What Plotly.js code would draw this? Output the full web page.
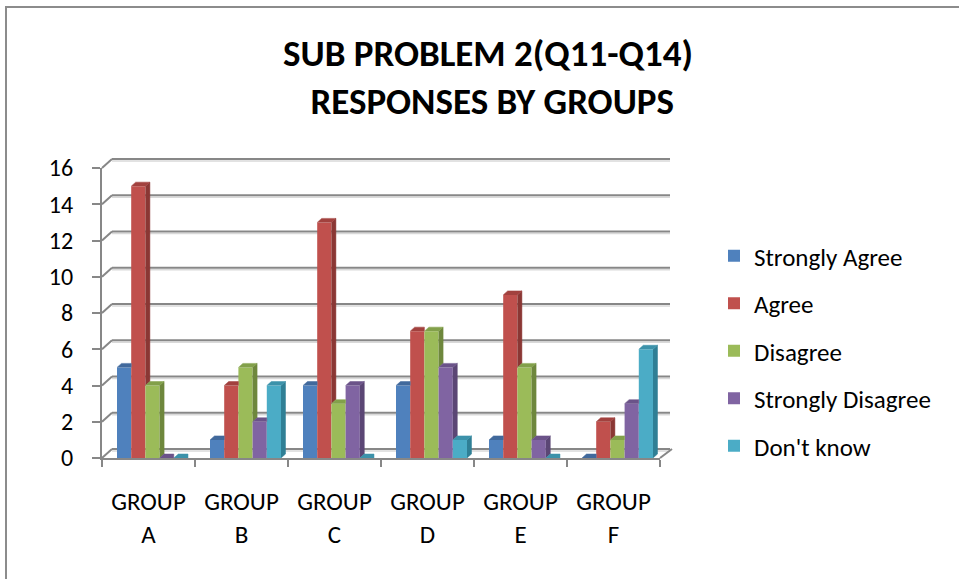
<!DOCTYPE html>
<html>
<head>
<meta charset="utf-8">
<script src="https://cdn.plot.ly/plotly-3.0.1.min.js"></script>
<style>
  html, body { margin: 0; padding: 0; background: #fff; }
  #wrap { position: relative; width: 959px; height: 579px; overflow: hidden; }
  #chart { width: 959px; height: 579px; }
  #frame { position: absolute; left: 5px; top: 6px; width: 1000px; height: 1000px;
           border-left: 2px solid #8c8c8c; border-top: 2px solid #8c8c8c; pointer-events: none; }
</style>
</head>
<body>
<div id="wrap"><div id="chart"></div><div id="frame"></div></div>
<script>
// Category labels and response counts per group
const groupLabels = ['GROUP<br>A', 'GROUP<br>B', 'GROUP<br>C', 'GROUP<br>D', 'GROUP<br>E', 'GROUP<br>F'];
const seriesNames = ['Strongly Agree', 'Agree', 'Disagree', 'Strongly Disagree', "Don't know"];
const stronglyAgree    = [5, 1, 4, 4, 1, 0];
const agree            = [15, 4, 13, 7, 9, 2];
const disagree         = [4, 5, 3, 7, 5, 1];
const stronglyDisagree = [0, 2, 4, 5, 1, 3];
const dontKnow         = [0, 4, 0, 1, 0, 6];
const yTicks = [0, 2, 4, 6, 8, 10, 12, 14, 16];

const seriesValues = [stronglyAgree, agree, disagree, stronglyDisagree, dontKnow];

// Face colours: front, right side, top
const frontColors = ['#4F81BD', '#C0504D', '#9BBB59', '#8064A2', '#4BACC6'];
const sideColors  = ['#375A87', '#8A3734', '#6E873D', '#5B4675', '#2F7F95'];
const topColors   = ['#41699C', '#A2413E', '#82A04A', '#6B5389', '#3C92AA'];

const FONT = 'Carlito, Lato, "Open Sans", sans-serif';
const M = { l: 102, r: 299, t: 168, b: 121 };
const plotW = 959 - M.l - M.r;
const plotH = 579 - M.t - M.b;
const xRange = [-0.5, 5.5];
const yRange = [0, 16];
const dataPerPxX = (xRange[1] - xRange[0]) / plotW;
const dataPerPxY = (yRange[1] - yRange[0]) / plotH;

// Bar geometry (in axis units, derived from pixel sizes)
const barW = 14.2 * dataPerPxX;
const firstOffset = -0.5 + 15 * dataPerPxX;
const depthX = 4.5 * dataPerPxX;
const depthY = 4 * dataPerPxY;

const idx = groupLabels.map((_, i) => i);
const traces = [];

// Front faces (bars, with legend entries)
seriesValues.forEach((vals, s) => {
  traces.push({
    type: 'bar',
    name: seriesNames[s],
    legendgroup: 'g' + s,
    x: idx,
    y: vals,
    width: barW,
    offset: firstOffset + s * barW,
    marker: { color: frontColors[s], line: { width: 0 } },
    hoverinfo: 'name+y'
  });
});

// Side and top faces for the 3-D look; the side of each bar is only
// visible above the neighbouring bar drawn in front of it.
seriesValues.forEach((vals, s) => {
  const next = s < seriesValues.length - 1 ? seriesValues[s + 1] : vals.map(() => 0);
  const sx = [], sy = [], tx = [], ty = [];
  vals.forEach((v, g) => {
    const h = next[g];
    const a = g + firstOffset + (s + 1) * barW;
    const L = a - barW;
    if (v > h) {
      sx.push(a, a + depthX, a + depthX, a, null);
      sy.push(h, h + depthY, v + depthY, v, null);
      tx.push(L, L + depthX, a + depthX, a, null);
      ty.push(v, v + depthY, v + depthY, v, null);
    } else {
      tx.push(L, L + depthX, a, a, null);
      ty.push(v, v + depthY, v + depthY, v, null);
    }
  });
  traces.push({
    type: 'scatter', x: sx, y: sy, mode: 'lines', fill: 'toself',
    fillcolor: sideColors[s], line: { color: sideColors[s], width: 0.5 },
    hoverinfo: 'skip', showlegend: false
  });
  traces.push({
    type: 'scatter', x: tx, y: ty, mode: 'lines', fill: 'toself',
    fillcolor: topColors[s], line: { color: topColors[s], width: 0.5 },
    hoverinfo: 'skip', showlegend: false
  });
});

// Back wall gridlines and floor, offset in depth behind the front axes
const wallDX = 10, wallDY = 9;
const px2paperX = px => (px - M.l) / plotW;
const val2paperY = (v, offPx) => (v - yRange[0]) / (yRange[1] - yRange[0]) + offPx / plotH;
const gridColor = '#878787';
const shapes = [];
yTicks.forEach(v => {
  shapes.push({
    type: 'line', xref: 'paper', yref: 'paper', layer: 'below',
    x0: px2paperX(M.l + wallDX), x1: px2paperX(M.l + plotW + wallDX),
    y0: val2paperY(v, wallDY - 2), y1: val2paperY(v, wallDY - 2),
    line: { color: '#d9d9d9', width: 1.5 }
  });
  shapes.push({
    type: 'line', xref: 'paper', yref: 'paper', layer: 'below',
    x0: px2paperX(M.l + wallDX), x1: px2paperX(M.l + plotW + wallDX),
    y0: val2paperY(v, wallDY), y1: val2paperY(v, wallDY),
    line: { color: gridColor, width: 2 }
  });
  shapes.push({
    type: 'line', xref: 'paper', yref: 'paper', layer: 'below',
    x0: 0, x1: px2paperX(M.l + wallDX),
    y0: val2paperY(v, 0), y1: val2paperY(v, wallDY),
    line: { color: gridColor, width: 2 }
  });
});
// right edge of the floor
shapes.push({
  type: 'line', xref: 'paper', yref: 'paper', layer: 'below',
  x0: 1, x1: px2paperX(M.l + plotW + wallDX + 2),
  y0: val2paperY(0, 0), y1: val2paperY(0, wallDY),
  line: { color: gridColor, width: 2 }
});

const layout = {
  width: 959,
  height: 579,
  margin: M,
  paper_bgcolor: '#ffffff',
  plot_bgcolor: 'rgba(0,0,0,0)',
  barmode: 'overlay',
  showlegend: true,
  font: { family: FONT, color: '#000000', size: 24 },
  title: {
    text: 'SUB PROBLEM 2(Q11-Q14)<br> RESPONSES BY GROUPS',
    font: { family: FONT, size: 37, color: '#000000', weight: 'bold' },
    x: 488 / 959, xanchor: 'center',
    y: 1 - 66 / 579, yanchor: 'top'
  },
  xaxis: {
    range: xRange,
    tickmode: 'array',
    tickvals: idx,
    ticktext: groupLabels,
    ticks: 'outside', ticklen: 0,
    ticklabelstandoff: 20,
    tickfont: { family: FONT, size: 25, color: '#000' },
    showgrid: false, zeroline: false,
    showline: true, linecolor: gridColor, linewidth: 2,
    minor: { tickmode: 'linear', tick0: -0.5, dtick: 1, ticks: 'outside', ticklen: 7,
             tickcolor: gridColor, tickwidth: 2, showgrid: false },
    fixedrange: true
  },
  yaxis: {
    range: yRange,
    tickmode: 'array',
    tickvals: yTicks,
    ticks: 'outside', ticklen: 8, tickcolor: gridColor, tickwidth: 2,
    ticklabelstandoff: 14,
    tickfont: { family: FONT, size: 24, color: '#000' },
    showgrid: false, zeroline: false,
    showline: true, linecolor: gridColor, linewidth: 2,
    fixedrange: true
  },
  legend: {
    x: px2paperX(714), xanchor: 'left',
    y: val2paperY(0, 458 - 233), yanchor: 'top',
    font: { family: FONT, size: 25, color: '#000' },
    tracegroupgap: 12,
    bgcolor: 'rgba(0,0,0,0)'
  },
  shapes: shapes
};

Plotly.newPlot('chart', traces, layout, { displayModeBar: false, staticPlot: true });
</script>
</body>
</html>
